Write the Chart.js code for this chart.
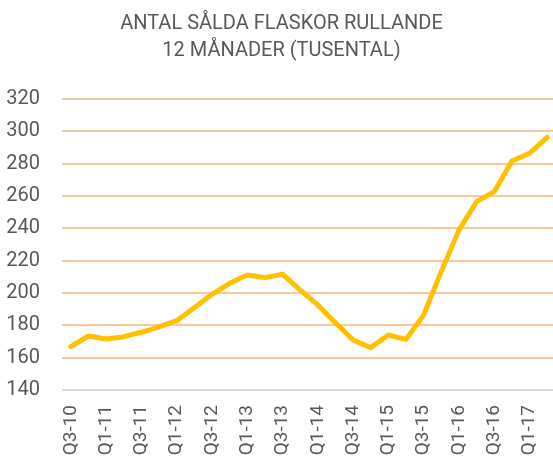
<!DOCTYPE html>
<html>
<head>
<meta charset="utf-8">
<script src="https://cdn.jsdelivr.net/npm/chart.js@4/dist/chart.umd.min.js"></script>
<style>
html,body{margin:0;padding:0;overflow:hidden;background:#fff;}
#wrap{position:relative;width:563px;height:459px;}
</style>
</head>
<body>
<div id="wrap"><canvas id="c"></canvas></div>
<script>
const titleLines = ["ANTAL SÅLDA FLASKOR RULLANDE", "12 MÅNADER (TUSENTAL)"];
const categories = ["Q3-10","Q4-10","Q1-11","Q2-11","Q3-11","Q4-11","Q1-12","Q2-12","Q3-12","Q4-12",
  "Q1-13","Q2-13","Q3-13","Q4-13","Q1-14","Q2-14","Q3-14","Q4-14","Q1-15","Q2-15",
  "Q3-15","Q4-15","Q1-16","Q2-16","Q3-16","Q4-16","Q1-17","Q2-17"];
const bottles = [166.8,173.4,171.5,173,175.7,179,182.9,190.9,199.2,206,
  211.1,209.5,211.7,201.8,192.6,181.6,170.9,166.2,174,171.3,
  186.4,213.4,238.9,256.5,262.7,281.6,286.4,296.3];
const yMin = 140, yMax = 320, yStep = 20;

Chart.defaults.font.family = 'Roboto';
const textColor = '#595959';
new Chart(document.getElementById('c'), {
  type: 'line',
  data: {
    labels: categories,
    datasets: [{
      data: bottles,
      borderColor: '#FFC000',
      borderWidth: 5,
      pointRadius: 0,
      tension: 0,
      borderCapStyle: 'round',
      borderJoinStyle: 'round',
      fill: false
    }]
  },
  options: {
    responsive: true,
    maintainAspectRatio: false,
    animation: false,
    layout: { padding: { left: 7, right: 7, top: 0, bottom: 0 } },
    plugins: {
      legend: { display: false },
      tooltip: { enabled: false },
      title: {
        display: true,
        text: titleLines,
        color: textColor,
        font: { family: 'Roboto', size: 20, weight: 'normal', lineHeight: 1.35 },
        padding: { top: 10, bottom: 35 }
      }
    },
    scales: {
      x: {
        offset: true,
        grid: { display: false, drawTicks: false },
        border: { display: false },
        afterFit: function(s) { s.height = 69; s.paddingLeft = 0; s.paddingRight = 0; },
        ticks: {
          autoSkip: false,
          maxRotation: 90,
          minRotation: 90,
          padding: 15,
          color: textColor,
          font: { family: 'Roboto', size: 19 },
          callback: function(v, i) { return i % 2 === 0 ? categories[i] : ''; }
        }
      },
      y: {
        min: yMin,
        max: yMax,
        afterFit: function(s) { s.width = 55; },
        grid: {
          drawTicks: false,
          lineWidth: 2,
          color: function(ctx) { return ctx.tick && ctx.tick.value === yMin ? '#D9D9D9' : '#FBC79E'; }
        },
        border: { display: false },
        ticks: {
          stepSize: yStep,
          padding: 22,
          color: textColor,
          font: { family: 'Roboto', size: 20 }
        }
      }
    }
  }
});
</script>
</body>
</html>
